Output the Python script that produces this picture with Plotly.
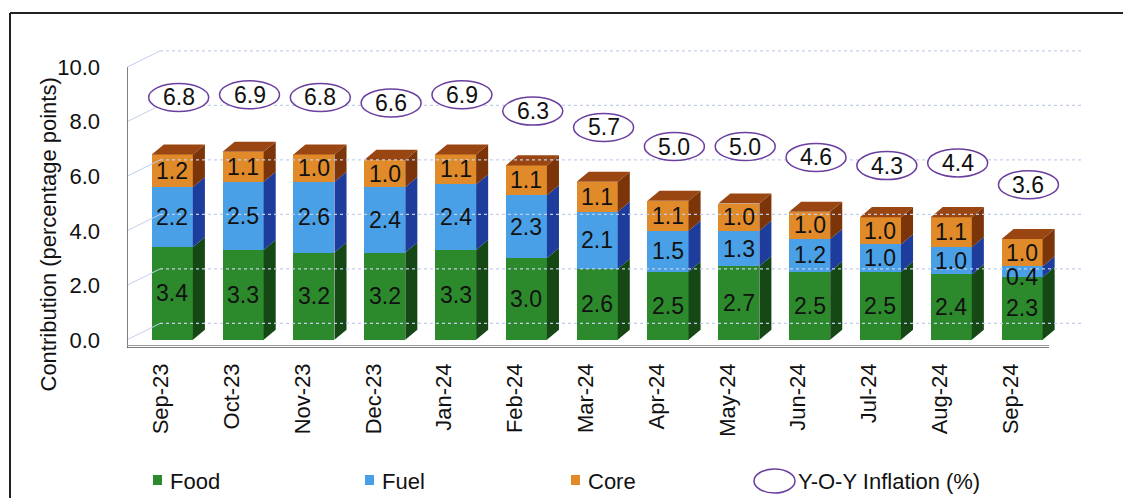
import plotly.graph_objects as go

# ---- data -------------------------------------------------------------
months = ["Sep-23", "Oct-23", "Nov-23", "Dec-23", "Jan-24", "Feb-24", "Mar-24",
          "Apr-24", "May-24", "Jun-24", "Jul-24", "Aug-24", "Sep-24"]
food = [3.4, 3.3, 3.2, 3.2, 3.3, 3.0, 2.6, 2.5, 2.7, 2.5, 2.5, 2.4, 2.3]
fuel = [2.2, 2.5, 2.6, 2.4, 2.4, 2.3, 2.1, 1.5, 1.3, 1.2, 1.0, 1.0, 0.4]
core = [1.2, 1.1, 1.0, 1.0, 1.1, 1.1, 1.1, 1.1, 1.0, 1.0, 1.0, 1.1, 1.0]
yoy = [6.8, 6.9, 6.8, 6.6, 6.9, 6.3, 5.7, 5.0, 5.0, 4.6, 4.3, 4.4, 3.6]
y_ticks = [0, 2, 4, 6, 8, 10]

# ---- geometry / style -------------------------------------------------
W, H = 1123, 498
ML, MR, MT, MB = 127, 40, 40, 150
XR = [-0.64, 12.86]
YR = [-0.3, 11.0]
BAR_W = 0.58          # front face width (category units)
DX, DY = 0.17, 0.37   # 3-D depth of each column
WALL_DX, WALL_DY = 0.466, 0.6  # depth of the back wall
FONT = "Liberation Sans, Arial, sans-serif"
LABEL_SIZE = 23

series = [
    ("Food", food, "#2c8a2c", "#164816"),
    ("Fuel", fuel, "#4aa0e6", "#1d3c9c"),
    ("Core", core, "#e08a2a", "#7c3508"),
]
TOP_FACE = "#9a4612"
GRID = "#c3cfea"

PW, PH = W - ML - MR, H - MT - MB
PX_PER_UNIT = PH / (YR[1] - YR[0])


def px_x(px):
    return (px - ML) / PW


def px_y(py):
    return (H - MB - py) / PH


x_idx = list(range(len(months)))
fig = go.Figure()

# back wall, left wall and floor decoration
shapes = []
for v in y_ticks:
    shapes.append(dict(type="line", xref="x", yref="y",
                       x0=XR[0] + WALL_DX, x1=XR[1], y0=v + WALL_DY, y1=v + WALL_DY,
                       line=dict(color=GRID, width=1.2, dash="dot")))
    shapes.append(dict(type="line", xref="x", yref="y",
                       x0=XR[0], x1=XR[0] + WALL_DX, y0=v, y1=v + WALL_DY,
                       line=dict(color=GRID, width=1)))
shapes.append(dict(type="line", xref="x", yref="y", x0=XR[0], x1=XR[0],
                   y0=YR[0], y1=10, line=dict(color="#555555", width=1.5)))
shapes.append(dict(type="line", xref="x", yref="y", x0=XR[0], x1=12.38,
                   y0=YR[0], y1=YR[0], line=dict(color="#555555", width=1.5)))
shapes.append(dict(type="line", xref="x", yref="y", x0=XR[0], x1=12.38,
                   y0=YR[0] + 0.09, y1=YR[0] + 0.09, line=dict(color="#9a9a9a", width=1)))

# stacked front faces plus side and top faces
base = [0.0] * len(months)
for name, vals, col, side_col in series:
    fig.add_trace(go.Bar(x=x_idx, y=vals, base=base, width=BAR_W, name=name,
                         marker=dict(color=col, line=dict(width=0)),
                         showlegend=False, hoverinfo="skip"))
    sx, sy = [], []
    for i, (b, v) in enumerate(zip(base, vals)):
        xr = i + BAR_W / 2
        sx += [xr, xr + DX, xr + DX, xr, xr, None]
        sy += [b, b + DY, b + v + DY, b + v, b, None]
    fig.add_trace(go.Scatter(x=sx, y=sy, mode="lines", fill="toself",
                             fillcolor=side_col, line=dict(width=0, color=side_col),
                             showlegend=False, hoverinfo="skip"))
    for i, (b, v) in enumerate(zip(base, vals)):
        # a segment thinner than the text gets its label nudged downwards
        seg_px = v * PX_PER_UNIT
        shift = -(LABEL_SIZE - seg_px) / 2.5 if seg_px < LABEL_SIZE else 0
        fig.add_annotation(x=i, y=b + v / 2, yshift=shift, text=f"{v:.1f}",
                           showarrow=False,
                           font=dict(family=FONT, size=LABEL_SIZE, color="#111111"))
    base = [b + v for b, v in zip(base, vals)]

tx, ty = [], []
for i, t in enumerate(base):
    xl, xr = i - BAR_W / 2, i + BAR_W / 2
    tx += [xl, xl + DX, xr + DX, xr, xl, None]
    ty += [t, t + DY, t + DY, t, t, None]
fig.add_trace(go.Scatter(x=tx, y=ty, mode="lines", fill="toself",
                         fillcolor=TOP_FACE, line=dict(width=0, color=TOP_FACE),
                         showlegend=False, hoverinfo="skip"))

# Y-O-Y inflation bubbles
LIFT = 57
for i, v in enumerate(yoy):
    shapes.append(dict(type="circle", xref="x", yref="y",
                       xsizemode="pixel", ysizemode="pixel",
                       xanchor=i + 0.09, yanchor=v,
                       x0=-30, x1=30, y0=LIFT - 14, y1=LIFT + 14,
                       fillcolor="white", line=dict(color="#6b3fa0", width=1.5)))
    fig.add_annotation(x=i + 0.09, y=v, yshift=LIFT, text=f"{v:.1f}", showarrow=False,
                       font=dict(family=FONT, size=LABEL_SIZE, color="#111111"))

# outer frame
shapes.append(dict(type="line", xref="paper", yref="paper",
                   x0=px_x(10), x1=px_x(W), y0=px_y(13), y1=px_y(13),
                   line=dict(color="#222222", width=2)))
shapes.append(dict(type="line", xref="paper", yref="paper",
                   x0=px_x(10), x1=px_x(10), y0=px_y(13), y1=px_y(H),
                   line=dict(color="#222222", width=2)))

# legend
legend_items = [("Food", series[0][2], 153), ("Fuel", series[1][2], 365),
                ("Core", series[2][2], 571)]
for name, col, lx in legend_items:
    shapes.append(dict(type="rect", xref="paper", yref="paper",
                       x0=px_x(lx), x1=px_x(lx + 9), y0=px_y(485), y1=px_y(475),
                       fillcolor=col, line=dict(width=0)))
    fig.add_annotation(xref="paper", yref="paper", x=px_x(lx + 15), y=px_y(481),
                       xanchor="left", yanchor="middle", text=name, showarrow=False,
                       font=dict(family=FONT, size=22, color="#111111"))
shapes.append(dict(type="circle", xref="paper", yref="paper",
                   x0=px_x(754), x1=px_x(795), y0=px_y(493), y1=px_y(469),
                   fillcolor="white", line=dict(color="#6b3fa0", width=1.5)))
fig.add_annotation(xref="paper", yref="paper", x=px_x(796), y=px_y(481),
                   xanchor="left", yanchor="middle", text="Y-O-Y Inflation (%)",
                   showarrow=False, font=dict(family=FONT, size=22, color="#111111"))

# axis title
fig.add_annotation(xref="paper", yref="paper", x=px_x(33), y=px_y(235),
                   text="Contribution (percentage points)", textangle=-90,
                   showarrow=False, font=dict(family=FONT, size=22, color="#111111"))

fig.update_layout(
    width=W, height=H,
    margin=dict(l=ML, r=MR, t=MT, b=MB),
    paper_bgcolor="white", plot_bgcolor="white",
    barmode="overlay", bargap=0,
    shapes=shapes,
    font=dict(family=FONT, color="#111111"),
    xaxis=dict(range=XR, tickmode="array",
               tickvals=[i - 0.16 for i in x_idx], ticktext=months,
               tickangle=-90, tickfont=dict(size=22), ticks="",
               showgrid=False, zeroline=False, showline=False,
               ticklabelstandoff=10),
    yaxis=dict(range=YR, tickmode="array", tickvals=y_ticks,
               ticktext=[f"{v:.1f}" for v in y_ticks],
               tickfont=dict(size=22), ticks="", showgrid=False,
               zeroline=False, showline=False, ticklabelstandoff=26),
)

fig.write_html("out.html")
